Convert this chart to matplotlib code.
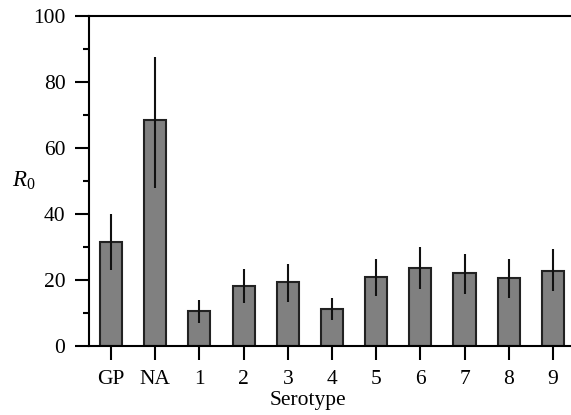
import matplotlib
matplotlib.use('Agg')
import matplotlib.pyplot as plt
from matplotlib.ticker import MultipleLocator

plt.rcParams['font.family'] = 'Liberation Serif'
plt.rcParams['mathtext.fontset'] = 'custom'
plt.rcParams['mathtext.rm'] = 'Liberation Serif'
plt.rcParams['mathtext.it'] = 'Liberation Serif:italic'

# values
labels = ['GP', 'NA', '1', '2', '3', '4', '5', '6', '7', '8', '9']
r0 = [31.5, 68.5, 10.6, 18.3, 19.3, 11.3, 20.9, 23.7, 22.2, 20.6, 22.8]
upper = [39.9, 87.5, 13.9, 23.2, 24.8, 14.5, 26.5, 30.1, 27.8, 26.3, 29.3]
lower = [23.0, 47.8, 7.1, 13.1, 13.4, 7.9, 15.2, 17.3, 15.7, 14.6, 16.8]

x = list(range(len(labels)))
err = [[v - lo for v, lo in zip(r0, lower)], [hi - v for v, hi in zip(r0, upper)]]

fig = plt.figure(figsize=(5.71, 4.15), dpi=100)
ax = fig.add_axes([89/571, 1 - 346/415, 482/571, 330/415])

ax.bar(x, r0, width=0.5, color='#808080', edgecolor='#222222', linewidth=1.5, zorder=2)
ax.errorbar(x, r0, yerr=err, fmt='none', ecolor='#111111', elinewidth=1.5, capsize=0, zorder=3)

ax.set_xlim(-0.5, 10.41)
ax.set_ylim(0, 100)
ax.set_xticks(x)
ax.set_xticklabels(labels)
ax.yaxis.set_major_locator(MultipleLocator(20))
ax.yaxis.set_minor_locator(MultipleLocator(10))

for s in ['left', 'bottom', 'top']:
	ax.spines[s].set_linewidth(1.5)
ax.spines['right'].set_visible(False)

ax.tick_params(axis='both', which='major', direction='out', length=10, width=1.5, labelsize=15.5, pad=7)
ax.tick_params(axis='y', which='minor', direction='out', length=4.5, width=1.5)
ax.tick_params(axis='x', which='minor', bottom=False)

ax.set_xlabel('Serotype', fontsize=15.5)
ax.xaxis.set_label_coords(218.5/482, -0.135)
ax.set_ylabel('$R_0$', fontsize=16.5, rotation=0, ha='center', va='center')
ax.yaxis.set_label_coords(-65/482, 0.5)

fig.savefig('out.png', dpi=100)
